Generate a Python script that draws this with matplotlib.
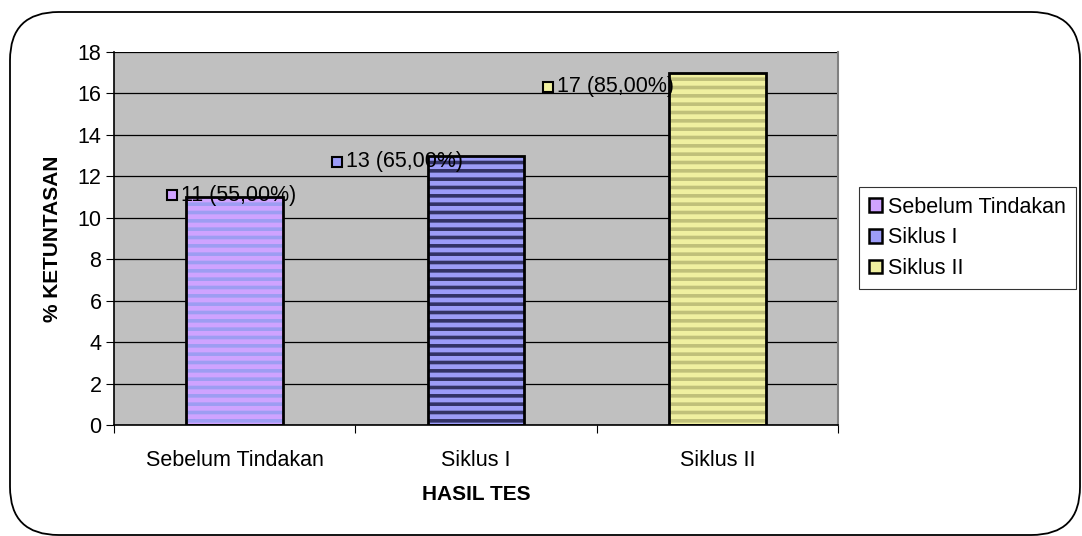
import matplotlib
matplotlib.use('Agg')
import matplotlib.pyplot as plt
import matplotlib.transforms as mtransforms
from matplotlib.patches import FancyBboxPatch, Patch

plt.rcParams['font.family'] = ['Liberation Sans', 'DejaVu Sans']
plt.rcParams['hatch.linewidth'] = 2.6

categories = ['Sebelum Tindakan', 'Siklus I', 'Siklus II']
values = [11, 13, 17]
labels = ['11 (55,00%)', '13 (65,00%)', '17 (85,00%)']

face_colors = ['#CFA3FF', '#9C9CF8', '#F0F0A0']
stripe_colors = ['#9D9DF2', '#333366', '#C0C07A']
# label offsets (pixels) relative to bar top centre
label_dx = [-63, -139, -169]
label_dy = [2, -6, -14]


def draw_chart():
    fig = plt.figure(figsize=(10.82, 5.36), dpi=100)
    fig.patches.append(FancyBboxPatch((10 / 1082, 1 / 536), 1070 / 1082, 523 / 536,
                                      boxstyle='round,pad=0,rounding_size=0.045',
                                      transform=fig.transFigure, facecolor='none',
                                      edgecolor='black', linewidth=1.3, mutation_aspect=2.0,
                                      zorder=-1))
    ax = fig.add_axes([114 / 1082, 1 - 425 / 536, 724 / 1082, 373 / 536])
    ax.set_facecolor('#C0C0C0')

    x = range(len(categories))
    ax.bar(x, values, width=0.4, color=face_colors, edgecolor=stripe_colors,
           hatch='--', linewidth=0, zorder=2)
    ax.bar(x, values, width=0.4, fill=False, edgecolor='black', linewidth=2, zorder=3)

    for i in x:
        base = mtransforms.offset_copy(ax.transData, fig=fig, x=label_dx[i], y=label_dy[i], units='dots')
        ax.plot(i, values[i], marker='s', markersize=7.5, color=face_colors[i],
                markeredgecolor='black', markeredgewidth=1.5, transform=base, zorder=4, clip_on=False)
        txt = mtransforms.offset_copy(ax.transData, fig=fig, x=label_dx[i] + 9, y=label_dy[i], units='dots')
        ax.text(i, values[i], labels[i], transform=txt, fontsize=15.5, va='center', ha='left', zorder=4)

    ax.set_xlim(-0.5, 2.5)
    ax.set_ylim(0, 18)
    ax.set_yticks(range(0, 19, 2))
    ax.yaxis.grid(True, color='black', linewidth=0.9)
    ax.set_axisbelow(True)
    ax.set_xticks([-0.5, 0.5, 1.5, 2.5], minor=False)
    ax.set_xticklabels([])
    ax.set_xticks(list(x), minor=True)
    ax.set_xticklabels(categories, minor=True, fontsize=15.5)
    ax.tick_params(axis='x', which='minor', length=0, pad=18)
    ax.tick_params(axis='x', which='major', length=6, color='black')
    ax.tick_params(axis='y', labelsize=15.5, length=6, pad=3)

    ax.spines['top'].set_visible(False)
    ax.spines['right'].set_color('#808080')
    ax.spines['right'].set_linewidth(1.5)
    ax.spines['left'].set_linewidth(1.2)
    ax.spines['bottom'].set_linewidth(1.2)

    ax.set_xlabel('HASIL TES', fontsize=15, fontweight='bold')
    ax.set_ylabel('% KETUNTASAN', fontsize=15, fontweight='bold')
    ax.xaxis.set_label_coords(0.5, -0.16)
    ax.yaxis.set_label_coords(-0.072, 0.5)

    handles = [Patch(facecolor=face_colors[i], edgecolor='black', linewidth=1.8) for i in x]
    leg = fig.legend(handles, categories, loc='upper left', bbox_to_anchor=(859 / 1082, 1 - 187 / 536),
                     fontsize=15.5, frameon=True, fancybox=False, handlelength=0.6, handleheight=0.6,
                     handletextpad=0.3, borderpad=0.45, labelspacing=0.45, borderaxespad=0)
    leg.get_frame().set_edgecolor('black')
    leg.get_frame().set_linewidth(0.8)

    fig.savefig('out.png', dpi=100)


if __name__ == '__main__':
    draw_chart()
